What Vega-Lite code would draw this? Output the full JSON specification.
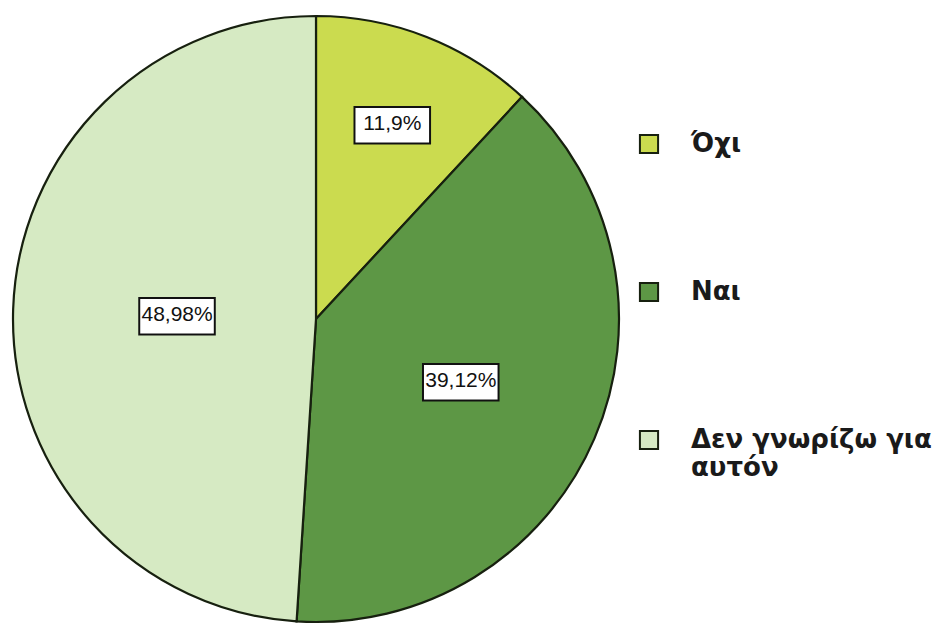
{
  "$schema": "https://vega.github.io/schema/vega-lite/v6.json",
  "width": 632,
  "height": 638,
  "autosize": "none",
  "padding": {"left": 0, "top": 0, "right": 306, "bottom": 0},
  "background": "#ffffff",
  "config": {"view": {"stroke": null}},
  "data": {
    "values": [
      {"category": "Όχι", "value": 11.9, "label": "11,9%"},
      {"category": "Ναι", "value": 39.12, "label": "39,12%"},
      {"category": "Δεν γνωρίζω για αυτόν", "value": 48.98, "label": "48,98%"}
    ]
  },
  "encoding": {
    "theta": {"field": "value", "type": "quantitative", "stack": true},
    "order": {"field": "value", "type": "quantitative", "sort": "ascending"}
  },
  "layer": [
    {
      "mark": {"type": "arc", "outerRadius": 303, "stroke": "#17200f", "strokeWidth": 2.2},
      "encoding": {
        "color": {
          "field": "category",
          "type": "nominal",
          "scale": {
            "domain": ["Όχι", "Ναι", "Δεν γνωρίζω για αυτόν"],
            "range": ["#cbdb4f", "#5d9745", "#d6eac3"]
          },
          "legend": {
            "title": null,
            "orient": "none",
            "legendX": 636,
            "legendY": 131,
            "padding": 0,
            "symbolType": "square",
            "symbolSize": 330,
            "symbolStrokeColor": "#17200f",
            "symbolStrokeWidth": 2,
            "labelFont": "DejaVu Sans",
            "labelFontWeight": "bold",
            "labelFontSize": 26,
            "labelColor": "#1a1a1a",
            "labelOffset": 29,
            "labelLimit": 400,
            "labelBaseline": "middle",
            "rowPadding": 120,
            "labelExpr": "datum.label == 'Δεν γνωρίζω για αυτόν' ? ['Δεν γνωρίζω για', 'αυτόν'] : datum.label"
          }
        }
      }
    },
    {
      "mark": {"type": "text", "text": "▬", "font": "DejaVu Sans", "fontSize": 99, "dy": -3, "fill": "#ffffff", "stroke": "#111111", "strokeWidth": 2, "baseline": "middle", "align": "center"},
      "encoding": {
        "radius": {"field": "value", "type": "quantitative", "scale": {"type": "linear", "zero": false, "domain": [11.9, 48.98], "range": [209, 139]}}
      }
    },
    {
      "mark": {"type": "text", "font": "Liberation Sans", "fontSize": 21, "fill": "#111111", "baseline": "middle", "align": "center"},
      "encoding": {
        "radius": {"field": "value", "type": "quantitative", "scale": {"type": "linear", "zero": false, "domain": [11.9, 48.98], "range": [209, 139]}},
        "text": {"field": "label", "type": "nominal"}
      }
    }
  ]
}
